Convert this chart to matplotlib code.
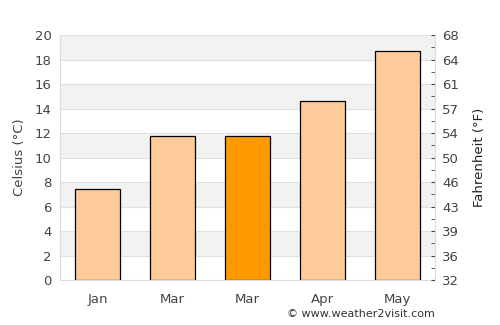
import matplotlib.pyplot as plt
import numpy as np

months = ['Jan', 'Mar', 'Mar', 'Apr', 'May']
celsius = [7.4, 11.8, 11.8, 14.6, 18.7]
highlight = 2
c_ticks = list(range(0, 21, 2))

fig = plt.figure(figsize=(5, 3.25), dpi=100)
ax = fig.add_axes([0.12, 0.138, 0.75, 0.754])

# alternating bands
for lo in range(2, 20, 4):
    ax.axhspan(lo, lo + 2, color='#f2f2f2', zorder=0, lw=0)
for y in c_ticks:
    ax.axhline(y, color='#e0e0e0', lw=0.8, zorder=0.5)

x = np.arange(len(months))
colors = ['#ff9900' if i == highlight else '#ffcc99' for i in range(len(months))]
ax.bar(x, celsius, width=0.6, color=colors, edgecolor='black', linewidth=0.9, zorder=2)

ax.set_xlim(-0.5, len(months) - 0.5)
ax.set_ylim(0, 20)
ax.set_xticks(x)
ax.set_xticklabels(months)
ax.set_yticks(c_ticks)
ax.tick_params(axis='both', colors='#444444', labelsize=9.5, length=0, pad=6)
ax.tick_params(axis='x', pad=9)
ax.set_ylabel('Celsius (°C)', color='#444444', fontsize=9.5, labelpad=6)
for s in ['top', 'right']:
    ax.spines[s].set_visible(False)
for s in ['left', 'bottom']:
    ax.spines[s].set_color('#dddddd')

ax2 = ax.twinx()
ax2.set_ylim(0, 20)
ax2.set_yticks(c_ticks)
ax2.set_yticklabels([str(int(round(32 + 1.8 * c))) for c in c_ticks])
ax2.set_yticks(range(1, 20, 2), minor=True)
ax2.tick_params(axis='y', which='both', direction='in', length=3, color='#444444',
                labelcolor='#444444', labelsize=9.5, pad=5)
ax2.set_ylabel('Fahrenheit (°F)', color='#222222', fontsize=9.5, labelpad=10)
for s in ['top', 'left', 'bottom']:
    ax2.spines[s].set_visible(False)
ax2.spines['right'].set_color('#dddddd')

fig.text(0.87, 0.035, '© www.weather2visit.com', ha='right', va='center',
         fontsize=8, color='#333333')

fig.savefig('out.png', dpi=100)
